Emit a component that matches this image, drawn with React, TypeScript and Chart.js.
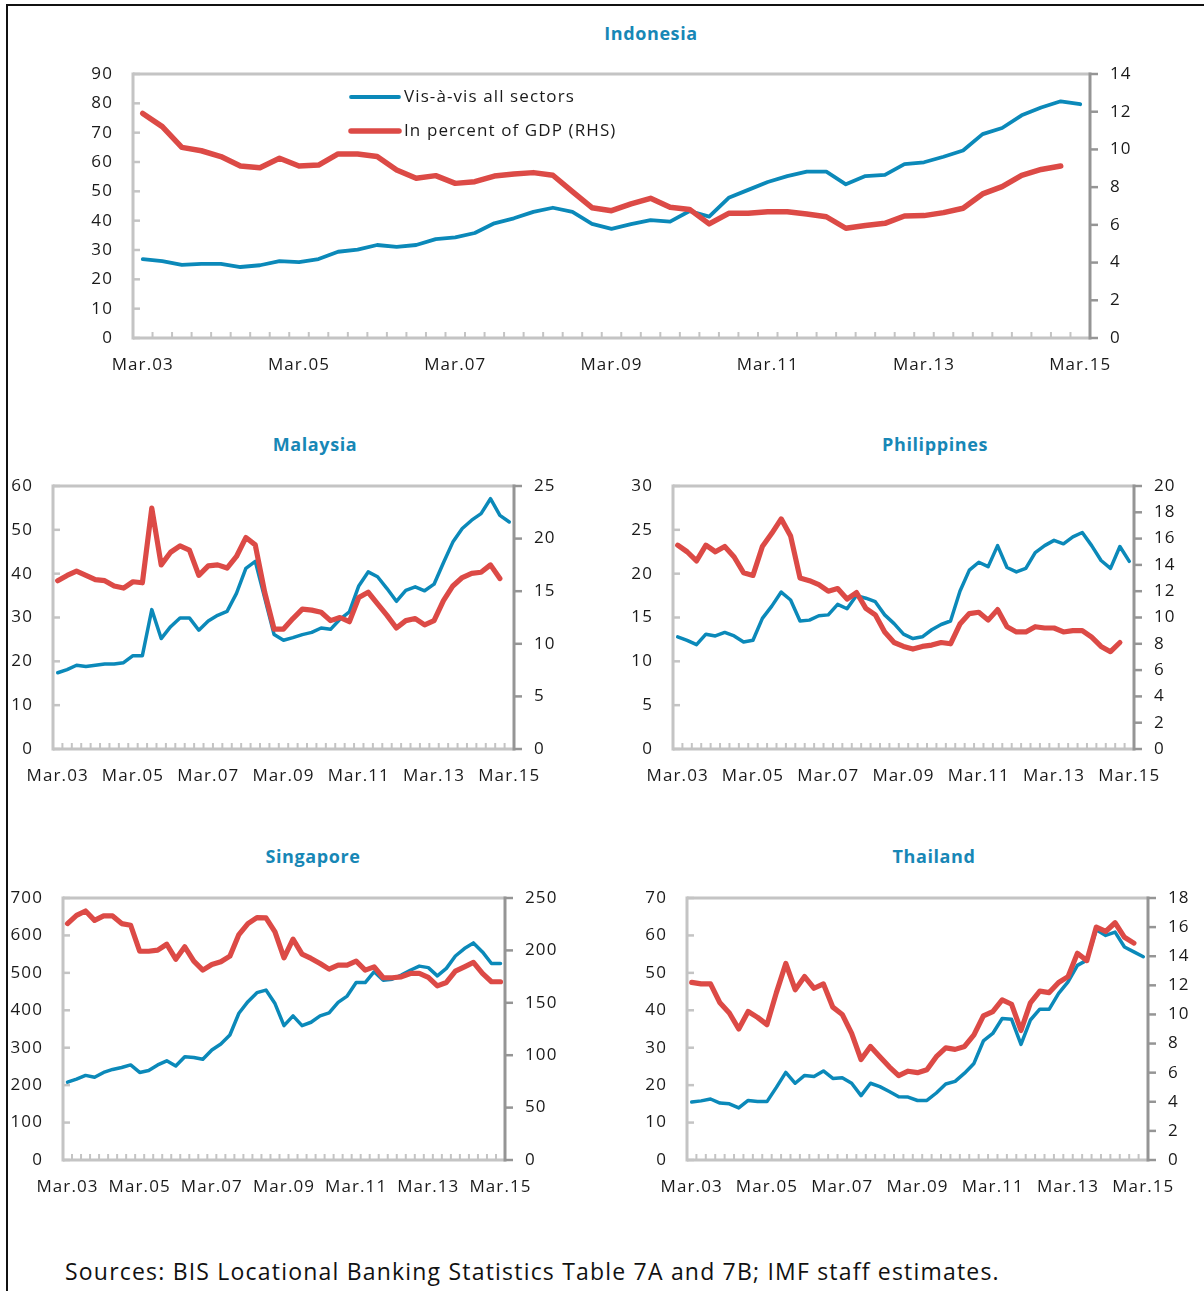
import React, { useEffect, useRef } from 'react';
import { Chart, registerables } from 'chart.js';
Chart.register(...registerables);

const categories = [
  'Mar.03','Jun.03','Sep.03','Dec.03','Mar.04','Jun.04','Sep.04','Dec.04',
  'Mar.05','Jun.05','Sep.05','Dec.05','Mar.06','Jun.06','Sep.06','Dec.06',
  'Mar.07','Jun.07','Sep.07','Dec.07','Mar.08','Jun.08','Sep.08','Dec.08',
  'Mar.09','Jun.09','Sep.09','Dec.09','Mar.10','Jun.10','Sep.10','Dec.10',
  'Mar.11','Jun.11','Sep.11','Dec.11','Mar.12','Jun.12','Sep.12','Dec.12',
  'Mar.13','Jun.13','Sep.13','Dec.13','Mar.14','Jun.14','Sep.14','Dec.14',
  'Mar.15',
];
const xTickLabels = ['Mar.03','Mar.05','Mar.07','Mar.09','Mar.11','Mar.13','Mar.15'];

const seriesNames = ['Vis-à-vis all sectors', 'In percent of GDP (RHS)'];

const indonesiaAll = [26.9,26.2,24.9,25.3,25.3,24.2,24.8,26.2,25.9,26.9,29.4,30.1,31.7,31.1,31.7,33.7,34.3,35.8,39.1,40.8,43.0,44.4,43.0,38.9,37.2,38.8,40.2,39.7,43.3,41.4,47.8,50.5,53.2,55.2,56.7,56.7,52.4,55.2,55.6,59.3,59.9,61.8,63.9,69.5,71.6,75.9,78.6,80.7,79.7];
const indonesiaGdp = [11.91,11.21,10.11,9.93,9.62,9.12,9.03,9.53,9.12,9.17,9.76,9.76,9.62,8.91,8.47,8.61,8.20,8.29,8.59,8.70,8.77,8.63,7.76,6.91,6.75,7.11,7.41,6.93,6.82,6.05,6.61,6.61,6.70,6.70,6.58,6.43,5.82,5.97,6.08,6.47,6.49,6.65,6.88,7.64,8.03,8.63,8.94,9.12,null];

const malaysiaAll = [17.4,18.1,19.1,18.8,19.1,19.4,19.4,19.7,21.3,21.3,31.8,25.2,27.9,29.9,29.9,27.1,29.2,30.5,31.4,35.5,41.2,42.8,34.5,26.1,24.8,25.4,26.1,26.6,27.6,27.3,29.6,31.3,37.2,40.4,39.3,36.6,33.7,36.2,37.0,36.1,37.6,42.5,47.2,50.3,52.2,53.7,57.1,53.3,51.8];
const malaysiaGdp = [16.0,16.5,16.9,16.5,16.1,16.0,15.5,15.3,15.9,15.8,22.9,17.5,18.7,19.3,18.9,16.5,17.4,17.5,17.2,18.3,20.1,19.4,14.9,11.4,11.4,12.4,13.3,13.2,13.0,12.2,12.5,12.1,14.4,14.9,13.8,12.7,11.5,12.2,12.4,11.8,12.2,14.1,15.5,16.3,16.7,16.8,17.5,16.2,null];

const philippinesAll = [12.8,12.4,11.9,13.1,12.9,13.3,12.9,12.2,12.4,14.9,16.3,17.9,17.0,14.6,14.7,15.2,15.3,16.5,16.0,17.5,17.2,16.8,15.3,14.3,13.1,12.6,12.8,13.6,14.2,14.6,18.0,20.4,21.3,20.8,23.2,20.7,20.2,20.6,22.4,23.2,23.8,23.4,24.2,24.7,23.2,21.5,20.6,23.1,21.4];
const philippinesGdp = [15.5,15.0,14.3,15.5,15.0,15.4,14.6,13.4,13.2,15.4,16.4,17.5,16.2,13.0,12.8,12.5,12.0,12.2,11.4,11.9,10.7,10.2,8.9,8.1,7.8,7.6,7.8,7.9,8.1,8.0,9.5,10.3,10.4,9.8,10.6,9.3,8.9,8.9,9.3,9.2,9.2,8.9,9.0,9.0,8.5,7.8,7.4,8.1,null];

const singaporeAll = [208,216,226,221,234,242,247,254,234,239,254,265,251,276,274,269,294,310,334,392,423,447,454,418,359,385,359,368,385,393,421,438,474,474,503,480,483,494,507,518,514,492,512,545,565,580,556,525,525];
const singaporeGdp = [225.6,233.5,237.6,228.7,232.9,232.9,225.6,224,199.2,199.2,200.2,205.9,191.6,203.4,189.7,181.2,186.5,189.1,194.5,215.1,225.6,231.3,231,217.6,192.9,210.7,196.4,192.3,187.5,182.1,185.9,185.9,189.7,181.2,184.3,173.9,173.9,174.8,178,178,174.2,166.2,169.4,180.2,184.3,188.5,178,170.1,170.1];

const thailandAll = [15.5,15.8,16.3,15.2,15.0,13.9,15.9,15.6,15.6,19.4,23.4,20.5,22.6,22.3,23.8,21.8,22.0,20.5,17.2,20.5,19.6,18.3,16.9,16.8,15.9,15.9,17.9,20.3,21.0,23.2,25.8,31.8,33.8,37.8,37.6,30.9,37.4,40.3,40.3,44.5,47.6,52.0,53.4,61.5,60.0,60.9,56.9,55.6,54.3];
const thailandGdp = [12.2,12.1,12.1,10.8,10.1,9.0,10.2,9.8,9.3,11.5,13.5,11.7,12.6,11.8,12.1,10.5,10.0,8.7,6.9,7.8,7.1,6.4,5.8,6.1,6.0,6.2,7.1,7.7,7.6,7.8,8.6,9.9,10.2,11.0,10.7,8.9,10.8,11.6,11.5,12.2,12.6,14.2,13.7,16.0,15.7,16.3,15.3,14.9,null];

// axis ranges: [min, max, step]
const indonesiaLeftAxis = [0, 90, 10];
const indonesiaRightAxis = [0, 14, 2];
const malaysiaLeftAxis = [0, 60, 10];
const malaysiaRightAxis = [0, 25, 5];
const philippinesLeftAxis = [0, 30, 5];
const philippinesRightAxis = [0, 20, 2];
const singaporeLeftAxis = [0, 700, 100];
const singaporeRightAxis = [0, 250, 50];
const thailandLeftAxis = [0, 70, 10];
const thailandRightAxis = [0, 18, 2];

const sourceText = 'Sources: BIS Locational Banking Statistics Table 7A and 7B; IMF staff estimates.';

const BLUE = '#0b89b9';
const RED = '#dc4a46';
const LIGHT = '#c4c4c4';
const DARK = '#959595';
const FONT = '"Open Sans", "Noto Sans", sans-serif';
const TITLE_COLOR = '#1787b6';
const SPACING = '1.1px';

type Panel = {
  title: string;
  all: (number | null)[];
  gdp: (number | null)[];
  left: number[];
  right: number[];
  area: { l: number; r: number; t: number; b: number };
  lw: number;
  rw: number;
  titleX: number;
  titleY: number;
  legend?: boolean;
  blueW: number;
  redW: number;
};

const panels: Panel[] = [
  { title: 'Indonesia', all: indonesiaAll, gdp: indonesiaGdp, left: indonesiaLeftAxis, right: indonesiaRightAxis,
    area: { l: 133, r: 1090, t: 74, b: 338 }, lw: 70, rw: 60, titleX: 651, titleY: 33, legend: true, blueW: 3.8, redW: 5.5 },
  { title: 'Malaysia', all: malaysiaAll, gdp: malaysiaGdp, left: malaysiaLeftAxis, right: malaysiaRightAxis,
    area: { l: 53, r: 514, t: 486, b: 749 }, lw: 45, rw: 55, titleX: 315, titleY: 444, blueW: 3.5, redW: 5.2 },
  { title: 'Philippines', all: philippinesAll, gdp: philippinesGdp, left: philippinesLeftAxis, right: philippinesRightAxis,
    area: { l: 673, r: 1134, t: 486, b: 749 }, lw: 45, rw: 60, titleX: 935, titleY: 444, blueW: 3.5, redW: 5.2 },
  { title: 'Singapore', all: singaporeAll, gdp: singaporeGdp, left: singaporeLeftAxis, right: singaporeRightAxis,
    area: { l: 63, r: 505, t: 898, b: 1160 }, lw: 55, rw: 60, titleX: 313, titleY: 856, blueW: 3.5, redW: 5.2 },
  { title: 'Thailand', all: thailandAll, gdp: thailandGdp, left: thailandLeftAxis, right: thailandRightAxis,
    area: { l: 687, r: 1148, t: 898, b: 1160 }, lw: 50, rw: 55, titleX: 934, titleY: 856, blueW: 3.5, redW: 5.2 },
];

// the vertical scales need half a label height plus the tick padding above the plot
const TP = 32;
const BH = 46;

function line(ctx: CanvasRenderingContext2D, x1: number, y1: number, x2: number, y2: number) {
  ctx.beginPath();
  ctx.moveTo(x1, y1);
  ctx.lineTo(x2, y2);
  ctx.stroke();
}

const spacingPlugin = {
  id: 'spacing',
  beforeDraw(chart: any) {
    (chart.ctx as any).letterSpacing = SPACING;
  },
};

const framePlugin = {
  id: 'frame',
  beforeDatasetsDraw(chart: any) {
    const { ctx, chartArea: a, scales } = chart;
    const yL = scales.y, yR = scales.y1, x = scales.x;
    ctx.save();
    ctx.lineCap = 'butt';
    // left inward ticks
    ctx.strokeStyle = LIGHT;
    ctx.lineWidth = 2.5;
    yL.ticks.forEach((t: any) => {
      const py = yL.getPixelForValue(t.value);
      line(ctx, a.left, py, a.left + 7, py);
    });
    // bottom inward ticks at category boundaries
    ctx.lineWidth = 2;
    const n = categories.length;
    for (let i = 1; i < n; i++) {
      const px = (x.getPixelForValue(i - 1) + x.getPixelForValue(i)) / 2;
      line(ctx, px, a.bottom, px, a.bottom - 6);
    }
    // box: top, left, bottom
    ctx.lineWidth = 3;
    ctx.strokeStyle = LIGHT;
    line(ctx, a.left, a.top, a.right, a.top);
    line(ctx, a.left, a.top - 1.5, a.left, a.bottom + 1.5);
    line(ctx, a.left, a.bottom, a.right, a.bottom);
    // right axis
    ctx.strokeStyle = DARK;
    ctx.lineWidth = 3;
    line(ctx, a.right, a.top - 1.5, a.right, a.bottom + 1.5);
    ctx.lineWidth = 2.5;
    yR.ticks.forEach((t: any) => {
      const py = yR.getPixelForValue(t.value);
      line(ctx, a.right, py, a.right + 8, py);
    });
    ctx.restore();
  },
};

const legendPlugin = {
  id: 'insideLegend',
  afterDatasetsDraw(chart: any, _args: any, opts: any) {
    if (!opts || !opts.show) return;
    const { ctx, chartArea: a } = chart;
    const items = [
      { label: seriesNames[0], color: BLUE, w: 3.8, dy: 23 },
      { label: seriesNames[1], color: RED, w: 5.5, dy: 57 },
    ];
    ctx.save();
    ctx.font = `17px ${FONT}`;
    (ctx as any).letterSpacing = SPACING;
    ctx.textBaseline = 'middle';
    ctx.textAlign = 'left';
    items.forEach((it) => {
      ctx.strokeStyle = it.color;
      ctx.lineWidth = it.w;
      ctx.lineCap = 'round';
      line(ctx, a.left + 218, a.top + it.dy, a.left + 266, a.top + it.dy);
      ctx.fillStyle = '#1a1a1a';
      ctx.fillText(it.label, a.left + 271, a.top + it.dy);
    });
    ctx.restore();
  },
};

function PanelChart({ p }: { p: Panel }) {
  const ref = useRef<HTMLCanvasElement | null>(null);
  const width = p.area.r - p.area.l + p.lw + p.rw;
  const height = p.area.b - p.area.t + TP + BH;
  useEffect(() => {
    if (!ref.current) return;
    const tickFont = { family: FONT, size: 17 };
    const chart = new Chart(ref.current, {
      type: 'line',
      data: {
        labels: categories,
        datasets: [
          {
            label: seriesNames[1], data: p.gdp, yAxisID: 'y1', borderColor: RED, backgroundColor: RED,
            borderWidth: p.redW, pointRadius: 0, tension: 0, fill: false, order: 0,
            borderCapStyle: 'round', borderJoinStyle: 'round',
          },
          {
            label: seriesNames[0], data: p.all, yAxisID: 'y', borderColor: BLUE, backgroundColor: BLUE,
            borderWidth: p.blueW, pointRadius: 0, tension: 0, fill: false, order: 1,
            borderCapStyle: 'round', borderJoinStyle: 'round',
          },
        ],
      },
      options: {
        responsive: false,
        animation: false,
        events: [],
        layout: { padding: { top: TP, left: 0, right: 0, bottom: 0 } },
        plugins: {
          legend: { display: false },
          title: { display: false },
          tooltip: { enabled: false },
          insideLegend: { show: !!p.legend },
        } as any,
        scales: {
          x: {
            type: 'category',
            offset: true,
            grid: { display: false, drawTicks: false },
            border: { display: false },
            ticks: {
              autoSkip: false, maxRotation: 0, minRotation: 0, padding: 17,
              font: tickFont, color: '#1a1a1a',
              callback: (_v: any, i: number) => (xTickLabels.includes(categories[i]) ? categories[i] : ''),
            },
            afterFit: (s: any) => { s.height = BH; },
          },
          y: {
            position: 'left', min: p.left[0], max: p.left[1],
            grid: { display: false, drawTicks: false },
            border: { display: false },
            ticks: { stepSize: p.left[2], padding: 20, font: tickFont, color: '#1a1a1a' },
            afterFit: (s: any) => { s.width = p.lw; },
          },
          y1: {
            position: 'right', min: p.right[0], max: p.right[1],
            grid: { display: false, drawTicks: false },
            border: { display: false },
            ticks: { stepSize: p.right[2], padding: 20, font: tickFont, color: '#1a1a1a' },
            afterFit: (s: any) => { s.width = p.rw; },
          },
        },
      } as any,
      plugins: [spacingPlugin, framePlugin, legendPlugin],
    });
    return () => chart.destroy();
  }, [p]);
  return (
    <canvas
      ref={ref}
      width={width}
      height={height}
      style={{ position: 'absolute', left: p.area.l - p.lw, top: p.area.t - TP, width, height }}
    />
  );
}

export default function App() {
  return (
    <div style={{ position: 'fixed', left: 0, top: 0, width: 1204, height: 1291, background: '#fff', overflow: 'hidden' }}>
      <div style={{ position: 'absolute', left: 6, top: 4, width: 1198, height: 2, background: '#111' }} />
      <div style={{ position: 'absolute', left: 6, top: 4, width: 2, height: 1287, background: '#111' }} />
      {panels.map((p) => (
        <div
          key={p.title + '-t'}
          style={{
            position: 'absolute', left: p.titleX - 120, top: p.titleY - 12, width: 240, height: 24,
            lineHeight: '24px', textAlign: 'center', fontFamily: FONT, fontWeight: 700, fontSize: 18,
            letterSpacing: '0.6px', color: TITLE_COLOR,
          }}
        >
          {p.title}
        </div>
      ))}
      {panels.map((p) => (
        <PanelChart key={p.title} p={p} />
      ))}
      <div
        style={{
          position: 'absolute', left: 65, top: 1256, height: 30, lineHeight: '30px', whiteSpace: 'nowrap',
          fontFamily: FONT, fontSize: 23, letterSpacing: '1.2px', color: '#111',
        }}
      >
        {sourceText}
      </div>
    </div>
  );
}
